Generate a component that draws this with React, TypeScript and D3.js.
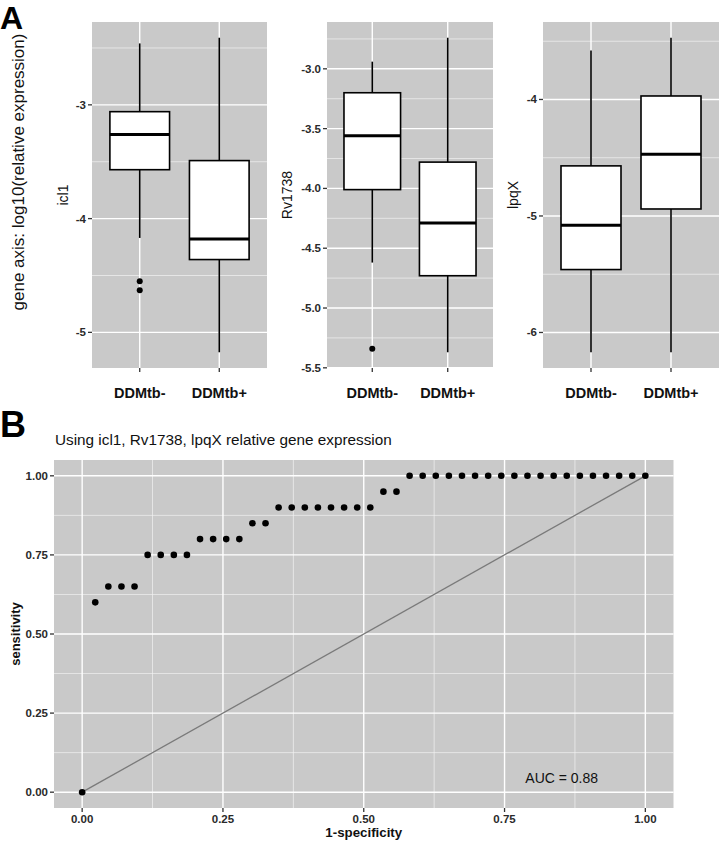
import React from 'react';
import * as d3 from 'd3';

// ---------- Panel A data ----------
const groups = ['DDMtb-', 'DDMtb+'];
const genes = ['icl1', 'Rv1738', 'lpqX'];
// [lower whisker, Q1, median, Q3, upper whisker] for DDMtb- and DDMtb+
const icl1Stats = [
  [-4.17, -3.57, -3.26, -3.06, -2.46],
  [-5.175, -4.36, -4.18, -3.49, -2.41],
];
const rv1738Stats = [
  [-4.62, -4.01, -3.56, -3.2, -2.94],
  [-5.37, -4.73, -4.29, -3.78, -2.74],
];
const lpqXStats = [
  [-6.17, -5.46, -5.08, -4.57, -3.58],
  [-6.17, -4.94, -4.47, -3.97, -3.47],
];
const icl1Outliers = [[-4.55, -4.63], []];
const rv1738Outliers = [[-5.34], []];
const lpqXOutliers = [[], []];
const icl1Ticks = [-5, -4, -3];
const rv1738Ticks = [-5.5, -5, -4.5, -4, -3.5, -3];
const lpqXTicks = [-6, -5, -4];

// ---------- Panel B data ----------
const nNegatives = 43;
const rocFalsePositiveCounts = [
  0, 1, 2, 3, 4, 5, 6, 7, 8, 9, 10, 11, 12, 13, 14, 15, 16, 17, 18, 19, 20, 21,
  22, 23, 24, 25, 26, 27, 28, 29, 30, 31, 32, 33, 34, 35, 36, 37, 38, 39, 40, 41,
  42, 43,
];
const rocSensitivity = [
  0, 0.6, 0.65, 0.65, 0.65, 0.75, 0.75, 0.75, 0.75, 0.8, 0.8, 0.8, 0.8, 0.85, 0.85,
  0.9, 0.9, 0.9, 0.9, 0.9, 0.9, 0.9, 0.9, 0.95, 0.95,
  1, 1, 1, 1, 1, 1, 1, 1, 1, 1, 1, 1, 1, 1, 1, 1, 1, 1, 1,
];
const rocTicks = [0, 0.25, 0.5, 0.75, 1];
const rocTickLabels = ['0.00', '0.25', '0.50', '0.75', '1.00'];
const aucLabel = 'AUC = 0.88';
const rocTitle = 'Using icl1, Rv1738, lpqX relative gene expression';

const FONT = '"Liberation Sans", Arial, Helvetica, sans-serif';
const BG = '#c9c9c9';
const TICK = '#333333';

const geneData = [
  { name: genes[0], stats: icl1Stats, outliers: icl1Outliers, ticks: icl1Ticks, fmt: d3.format('d') },
  { name: genes[1], stats: rv1738Stats, outliers: rv1738Outliers, ticks: rv1738Ticks, fmt: d3.format('.1f') },
  { name: genes[2], stats: lpqXStats, outliers: lpqXOutliers, ticks: lpqXTicks, fmt: d3.format('d') },
];

const panelX = [
  { x0: 92, x1: 267, labelX: 63 },
  { x0: 327, x1: 493, labelX: 287 },
  { x0: 543, x1: 719, labelX: 513 },
];
const PY0 = 22;
const PY1 = 368;

function fmtMinus(s: string) {
  return s.replace('\u2212', '-');
}

function BoxPanel({ idx }: { idx: number }) {
  const g = geneData[idx];
  const px = panelX[idx];
  const all = g.stats.flat().concat(g.outliers.flat());
  const mn = d3.min(all) as number;
  const mx = d3.max(all) as number;
  const pad = (mx - mn) * 0.05;
  const y = d3.scaleLinear().domain([mn - pad, mx + pad]).range([PY1, PY0]);
  const x = d3.scalePoint<string>().domain(groups).range([px.x0, px.x1]).padding(0.6);
  const step = x.step();
  const bw = step * 0.75;
  const minors: number[] = [];
  const tstep = g.ticks[1] - g.ticks[0];
  for (let i = -1; i < g.ticks.length; i++) {
    const v = g.ticks[0] + tstep * (i + 0.5);
    const d = y.domain();
    if (v > d[0] && v < d[1]) minors.push(v);
  }
  const cy = (PY0 + PY1) / 2;
  return (
    <g>
      <rect x={px.x0} y={PY0} width={px.x1 - px.x0} height={PY1 - PY0} fill={BG} />
      {minors.map((v) => (
        <line key={'m' + v} x1={px.x0} x2={px.x1} y1={y(v)} y2={y(v)} stroke="#f2f2f2" strokeWidth={0.7} />
      ))}
      {g.ticks.map((v) => (
        <line key={'t' + v} x1={px.x0} x2={px.x1} y1={y(v)} y2={y(v)} stroke="#ffffff" strokeWidth={1.4} />
      ))}
      {groups.map((c) => (
        <line key={'v' + c} x1={x(c)} x2={x(c)} y1={PY0} y2={PY1} stroke="#ffffff" strokeWidth={1.4} />
      ))}
      {groups.map((c, gi) => {
        const s = g.stats[gi];
        const cx = x(c) as number;
        return (
          <g key={'b' + c}>
            <line x1={cx} x2={cx} y1={y(s[0])} y2={y(s[1])} stroke="#000" strokeWidth={1.6} />
            <line x1={cx} x2={cx} y1={y(s[3])} y2={y(s[4])} stroke="#000" strokeWidth={1.6} />
            <rect x={cx - bw / 2} y={y(s[3])} width={bw} height={y(s[1]) - y(s[3])} fill="#fff" stroke="#000" strokeWidth={1.6} />
            <line x1={cx - bw / 2} x2={cx + bw / 2} y1={y(s[2])} y2={y(s[2])} stroke="#000" strokeWidth={3} />
            {g.outliers[gi].map((o, oi) => (
              <circle key={oi} cx={cx} cy={y(o)} r={3} fill="#000" />
            ))}
          </g>
        );
      })}
      {g.ticks.map((v) => (
        <g key={'yl' + v}>
          <line x1={px.x0 - 4} x2={px.x0} y1={y(v)} y2={y(v)} stroke={TICK} strokeWidth={1.3} />
          <text x={px.x0 - 6} y={y(v)} dy="0.35em" textAnchor="end" fontSize={11.5} fontWeight="bold" fill="#2a2a2a" fontFamily={FONT}>
            {fmtMinus(g.fmt(v))}
          </text>
        </g>
      ))}
      {groups.map((c) => (
        <g key={'xl' + c}>
          <line x1={x(c)} x2={x(c)} y1={PY1} y2={PY1 + 4} stroke={TICK} strokeWidth={1.3} />
          <text x={x(c)} y={398} textAnchor="middle" fontSize={14.5} fontWeight="bold" fill="#111" fontFamily={FONT}>
            {c}
          </text>
        </g>
      ))}
      <text transform={`translate(${px.labelX},${cy}) rotate(-90)`} dy="0.35em" textAnchor="middle" fontSize={14} fill="#111" fontFamily={FONT}>
        {g.name}
      </text>
    </g>
  );
}

function RocPanel() {
  const X0 = 54, X1 = 673.5, Y0 = 460, Y1 = 808;
  const x = d3.scaleLinear().domain([-0.05, 1.05]).range([X0, X1]);
  const y = d3.scaleLinear().domain([-0.05, 1.05]).range([Y1, Y0]);
  const minors = [0.125, 0.375, 0.625, 0.875];
  const pts = rocFalsePositiveCounts.map((k, i) => ({ fpr: k / nNegatives, sens: rocSensitivity[i] }));
  const diag = d3.line<number>().x((v) => x(v)).y((v) => y(v));
  return (
    <g>
      <text x={0} y={437} fontSize={36} fontWeight="bold" fill="#000" fontFamily={FONT}>B</text>
      <text x={55} y={445} fontSize={15.3} fill="#111" fontFamily={FONT}>{rocTitle}</text>
      <rect x={X0} y={Y0} width={X1 - X0} height={Y1 - Y0} fill={BG} />
      {minors.map((v) => (
        <g key={'m' + v}>
          <line x1={X0} x2={X1} y1={y(v)} y2={y(v)} stroke="#f2f2f2" strokeWidth={0.7} />
          <line x1={x(v)} x2={x(v)} y1={Y0} y2={Y1} stroke="#f2f2f2" strokeWidth={0.7} />
        </g>
      ))}
      {rocTicks.map((v) => (
        <g key={'t' + v}>
          <line x1={X0} x2={X1} y1={y(v)} y2={y(v)} stroke="#fff" strokeWidth={1.4} />
          <line x1={x(v)} x2={x(v)} y1={Y0} y2={Y1} stroke="#fff" strokeWidth={1.4} />
        </g>
      ))}
      <path d={diag([0, 1]) as string} stroke="#7a7a7a" strokeWidth={1.3} fill="none" />
      {pts.map((p, i) => (
        <circle key={i} cx={x(p.fpr)} cy={y(p.sens)} r={3.3} fill="#000" />
      ))}
      <text x={x(0.8515)} y={y(0.045)} dy="0.35em" textAnchor="middle" fontSize={14} fill="#111" fontFamily={FONT}>
        {aucLabel}
      </text>
      {rocTicks.map((v, i) => (
        <g key={'a' + v}>
          <line x1={X0 - 4} x2={X0} y1={y(v)} y2={y(v)} stroke={TICK} strokeWidth={1.3} />
          <text x={X0 - 6} y={y(v)} dy="0.35em" textAnchor="end" fontSize={11.5} fontWeight="bold" fill="#2a2a2a" fontFamily={FONT}>
            {rocTickLabels[i]}
          </text>
          <line x1={x(v)} x2={x(v)} y1={Y1} y2={Y1 + 4} stroke={TICK} strokeWidth={1.3} />
          <text x={x(v)} y={823} textAnchor="middle" fontSize={11.5} fontWeight="bold" fill="#2a2a2a" fontFamily={FONT}>
            {rocTickLabels[i]}
          </text>
        </g>
      ))}
      <text x={(X0 + X1) / 2} y={837} textAnchor="middle" fontSize={13.3} fontWeight="bold" fill="#111" fontFamily={FONT}>
        1-specificity
      </text>
      <text transform={`translate(15,${(Y0 + Y1) / 2}) rotate(-90)`} dy="0.35em" textAnchor="middle" fontSize={13} fontWeight="bold" fill="#111" fontFamily={FONT}>
        sensitivity
      </text>
    </g>
  );
}

export default function App() {
  return (
    <svg width={720} height={845} style={{ position: 'absolute', left: 0, top: 0, background: '#fff' }}>
      <rect x={0} y={0} width={720} height={845} fill="#fff" />
      <text x={0} y={29} fontSize={32} fontWeight="bold" fill="#000" fontFamily={FONT}>A</text>
      <text transform={`translate(18,172) rotate(-90)`} dy="0.35em" textAnchor="middle" fontSize={17} fill="#111" fontFamily={FONT}>
        gene axis: log10(relative expression)
      </text>
      {geneData.map((_, i) => (
        <BoxPanel key={i} idx={i} />
      ))}
      <RocPanel />
    </svg>
  );
}
